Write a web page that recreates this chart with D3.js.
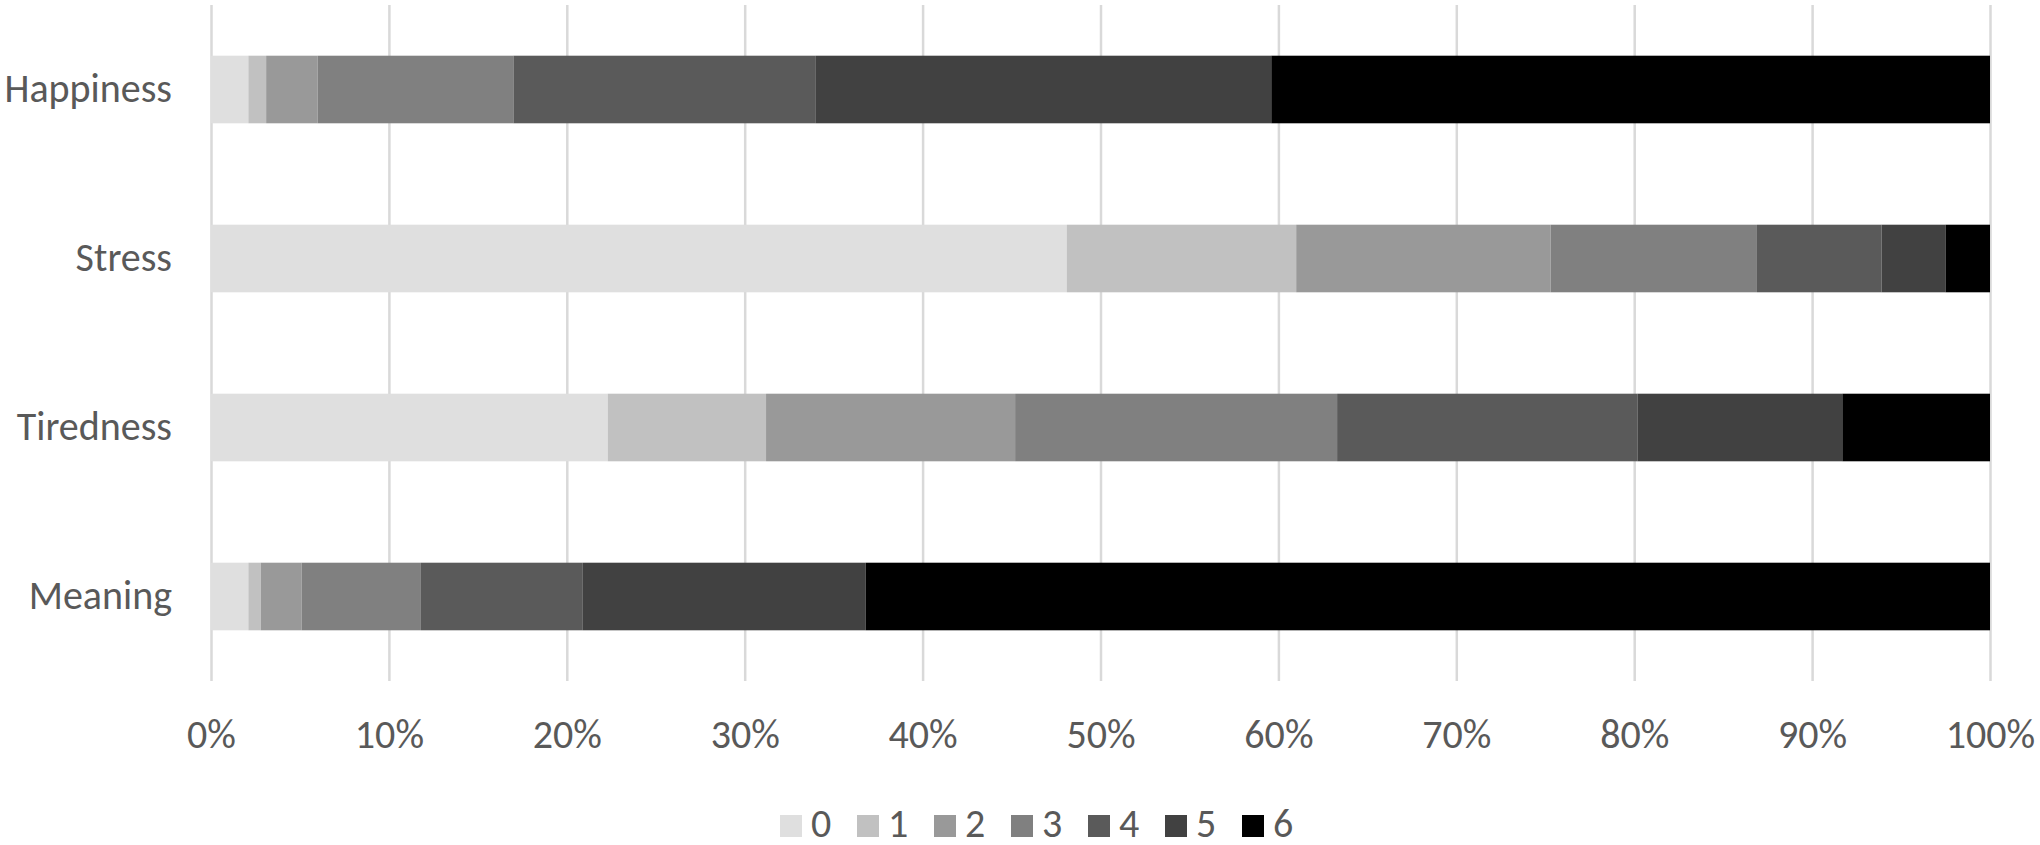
<!DOCTYPE html>
<html>
<head>
<meta charset="utf-8">
<script src="https://cdn.jsdelivr.net/npm/d3@7/dist/d3.min.js"></script>
<style>
  html, body { margin: 0; padding: 0; background: #fff; overflow: hidden; }
  svg { display: block; }
</style>
</head>
<body>
<div id="chart"></div>
<script>

// Categories (top to bottom) and rating levels.
var categories = ["Happiness", "Stress", "Tiredness", "Meaning"];
var levels = ["0", "1", "2", "3", "4", "5", "6"];

// Share of answers per level, in percent.
var happiness = [2.1, 1.0, 2.9, 11.0, 17.0, 25.6, 40.4];
var stress    = [48.1, 12.9, 14.3, 11.6, 7.0, 3.6, 2.5];
var tiredness = [22.3, 8.9, 14.0, 18.1, 16.9, 11.5, 8.3];
var meaning   = [2.1, 0.7, 2.3, 6.7, 9.1, 15.9, 63.2];

var tickValues = [0, 0.1, 0.2, 0.3, 0.4, 0.5, 0.6, 0.7, 0.8, 0.9, 1];
var greys = ["#dfdfdf", "#c1c1c1", "#999999", "#808080", "#5a5a5a", "#414141", "#000000"];

// Configuration parameters.
var width = 2040,
    height = 845,
    margin = { top: 5, right: 50, bottom: 164, left: 211 },
    innerWidth = width - margin.left - margin.right,
    innerHeight = height - margin.top - margin.bottom,
    fontFamily = "Carlito, Calibri, sans-serif",
    fontSize = 40,
    textColor = "#595959";

// Build the rows the stack layout wants.
var series = [happiness, stress, tiredness, meaning];
var rows = categories.map(function (name, i){
  var row = { name: name };
  levels.forEach(function (level, j){ row[level] = series[i][j]; });
  return row;
});

var stacked = d3.stack()
  .keys(levels)
  .offset(d3.stackOffsetExpand)(rows);

// Scales.
var x = d3.scaleLinear()
      .domain([0, 1])
      .range([0, innerWidth]),
    y = d3.scaleBand()
      .domain(categories)
      .range([0, innerHeight])
      .paddingInner(0.6)
      .paddingOuter(0.3),
    color = d3.scaleOrdinal()
      .domain(levels)
      .range(greys);

var svg = d3.select("#chart").append("svg")
  .attr("width", width)
  .attr("height", height)
  .attr("font-family", fontFamily);

var g = svg.append("g")
  .attr("transform", "translate(" + margin.left + "," + margin.top + ")");

// Shared styling for axis text.
function styleAxisText(sel){
  sel.attr("font-size", null).attr("font-family", null);
  sel.select(".domain").remove();
  sel.selectAll("text")
    .attr("font-size", fontSize)
    .attr("fill", textColor);
}

// Vertical gridlines.
g.append("g")
  .call(d3.axisBottom(x)
    .tickValues(tickValues)
    .tickSize(innerHeight)
    .tickFormat(""))
  .call(function (sel){
    sel.select(".domain").remove();
    sel.selectAll("text").remove();
    sel.selectAll("line")
      .attr("stroke", "#d9d9d9")
      .attr("stroke-width", 2.5);
  });

// Stacked bars.
g.append("g")
  .selectAll("g")
  .data(stacked)
  .join("g")
    .attr("fill", function (d){ return color(d.key); })
  .selectAll("rect")
  .data(function (d){ return d; })
  .join("rect")
    .attr("x", function (d){ return x(d[0]); })
    .attr("width", function (d){ return x(d[1]) - x(d[0]); })
    .attr("y", function (d){ return y(d.data.name); })
    .attr("height", y.bandwidth());

// X axis labels.
g.append("g")
  .attr("transform", "translate(0," + innerHeight + ")")
  .call(d3.axisBottom(x)
    .tickValues(tickValues)
    .tickSize(0)
    .tickPadding(0)
    .tickFormat(d3.format(".0%")))
  .call(styleAxisText)
  .call(function (sel){
    sel.selectAll("text")
      .attr("dy", null)
      .attr("y", 67);
  });

// Y axis labels.
g.append("g")
  .call(d3.axisLeft(y)
    .tickSize(0)
    .tickPadding(39))
  .call(styleAxisText)
  .call(function (sel){
    sel.selectAll("text").attr("dy", "0.3em");
  });

// Legend.
var legendStep = 77,
    legendX = 780,
    legendY = 815,
    swatch = 22;

var legend = svg.append("g")
  .attr("transform", "translate(" + legendX + "," + legendY + ")");

var items = legend.selectAll("g")
  .data(levels)
  .join("g")
    .attr("transform", function (d, i){ return "translate(" + (i * legendStep) + ",0)"; });

items.append("rect")
  .attr("width", swatch)
  .attr("height", swatch)
  .attr("fill", function (d){ return color(d); });

items.append("text")
  .attr("x", 31)
  .attr("y", 22)
  .attr("font-size", fontSize)
  .attr("fill", textColor)
  .text(function (d){ return d; });

</script>
</body>
</html>
